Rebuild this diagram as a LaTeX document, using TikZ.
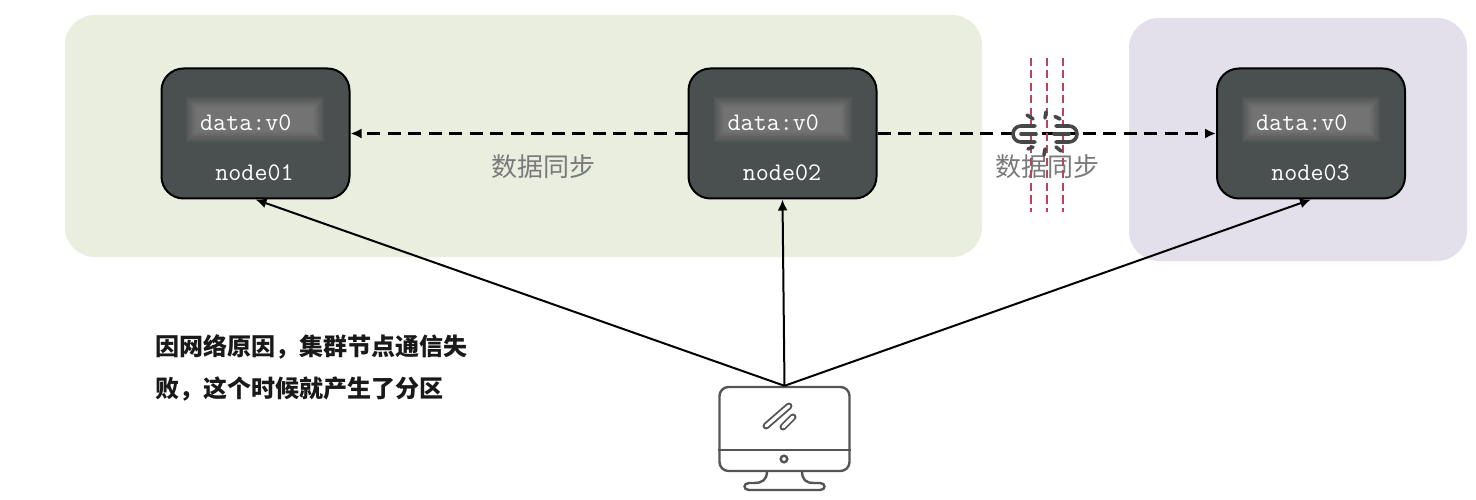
\documentclass[tikz,border=0pt]{standalone}
\usepackage{fontspec}
\setmonofont{Latin Modern Mono}
\newfontfamily\cjkfont{Noto Sans CJK SC}
\usetikzlibrary{arrows.meta,calc}
\definecolor{panelg}{HTML}{EAEEDE}
\definecolor{panelp}{HTML}{E3DFEB}
\definecolor{nodefill}{HTML}{4A4F50}
\definecolor{slotedge}{HTML}{525555}
\definecolor{slotmid}{HTML}{737373}
\definecolor{iconline}{HTML}{555555}
\definecolor{cutred}{HTML}{B5475C}
\tikzset{
  panel/.style={rounded corners=30pt,fill=#1,draw=none},
  server/.style={draw=black,line width=2pt,fill=nodefill,rounded corners=22pt,minimum width=188pt,minimum height=130pt,inner sep=0pt},
  monotext/.style={text=white,font=\ttfamily\fontsize{25.3}{27}\selectfont,inner sep=0pt},
  synclink/.style={draw=black,line width=2.2pt,dash pattern=on 13pt off 7.5pt,-{Latex[length=11pt,width=10pt]}},
  clientlink/.style={draw=black,line width=2pt,-{Latex[length=11pt,width=10pt]}},
  cjklabel/.style={text=black!52,font=\cjkfont\fontsize{26}{28}\selectfont,inner sep=0pt},
  cutline/.style={draw=cutred,line width=1.6pt,dash pattern=on 8pt off 4.5pt},
  icon/.style={draw=iconline,line width=2.4pt},
  linkpart/.style={draw=black!72,line width=3.6pt,line cap=round},
  capsule/.style={draw=iconline,line width=1.9pt,double=white,double distance=3.2pt,line cap=round}
}
\newcommand{\slotbox}[1]{%
  \foreach \k in {0,1,...,14}{%
    \pgfmathsetmacro{\pct}{min(100,\k*7.5)}%
    \fill[slotmid!\pct!slotedge] ($(#1)+(-69+\k*0.8,-22.5+\k*0.8)$) rectangle ($(#1)+(69-\k*0.8,22.5-\k*0.8)$);
  }%
}
\begin{document}
\begin{tikzpicture}[x=1pt,y=-1pt]
\useasboundingbox (0,0) rectangle (1476,500);
\fill[white] (0,0) rectangle (1476,500);
\fill[panel=panelg] (65,15) rectangle (982,257);
\fill[panel=panelp] (1129,18) rectangle (1467,261);

% servers
\node[server] (n1) at (255.5,133.5) {};
\node[server] (n2) at (782.5,133.5) {};
\node[server] (n3) at (1311,133.5) {};

\coordinate (s1) at (255,119.5);
\coordinate (s2) at (782.5,119.5);
\coordinate (s3) at (1311,119.5);
\slotbox{s1}\slotbox{s2}\slotbox{s3}

\node[monotext,anchor=base west] (d1) at (200,131) {data:v0};
\node[monotext,anchor=base west] (d2) at (727.5,131) {data:v0};
\node[monotext,anchor=base west] (d3) at (1256,131) {data:v0};
\node[monotext,anchor=base] (l1) at (254.5,181) {node01};
\node[monotext,anchor=base] (l2) at (782,181) {node02};
\node[monotext,anchor=base] (l3) at (1310.5,181) {node03};

% monitor
\node[draw=iconline,line width=2.4pt,rounded corners=9pt,minimum width=130pt,minimum height=84pt,inner sep=0pt] (pc) at (784.5,429) {};
\draw[icon] (pc.west |- 0,450) -- (pc.east |- 0,450);
\draw[icon] (784,459) circle (3.3pt);
\draw[capsule] (766,426) -- (789,406);
\draw[capsule] (783,427) -- (793,417);
\draw[icon] (767,471) .. controls (767,480) and (762,483) .. (754,483) -- (749,483)
  .. controls (743,483) and (743,490) .. (749,490) -- (820,490)
  .. controls (826,490) and (826,483) .. (820,483) -- (814,483)
  .. controls (806,483) and (802,480) .. (802,471);

% client links
\draw[clientlink] (pc.north) -- (n1.south);
\draw[clientlink] (pc.north) -- (n2.south);
\draw[clientlink] (pc.north) -- (n3.south);

% cut lines
\coordinate (ca) at (1031,58);\coordinate (cb) at (1031,212);
\coordinate (cc) at (1047,58);\coordinate (cd) at (1047,212);
\coordinate (ce) at (1063,58);\coordinate (cf) at (1063,212);

% sync links
\draw[synclink] (n2.west) -- (n1.east);
\draw[synclink] (n2.east) -- (n3.west);

\node[cjklabel] (t1) at (543,167) {数据同步};
\node[cjklabel] (t2) at (1047,167) {数据同步};

\draw[cutline] (ca) -- (cb);
\draw[cutline] (cc) -- (cd);
\draw[cutline] (ce) -- (cf);

% broken link icon
\draw[linkpart] (1035,126) -- (1021,126) arc[start angle=90,end angle=270,radius=8pt] -- (1035,142);
\draw[linkpart] (1021,134) -- (1036,134);
\draw[linkpart] (1056,126) -- (1069,126) arc[start angle=90,end angle=-90,radius=8pt] -- (1056,142);
\draw[linkpart] (1054,134) -- (1069,134);
\draw[linkpart] (1027,115) -- (1033,119);
\draw[linkpart] (1046,112) -- (1045,118);
\draw[linkpart] (1060,119) -- (1055,116.5) ;
\draw[linkpart] (1028,149) -- (1033,147);
\draw[linkpart] (1045,149) -- (1044,155);
\draw[linkpart] (1056,147) -- (1061,151);

% caption
\node[anchor=base west,inner sep=0pt,font=\cjkfont\bfseries\fontsize{24}{28}\selectfont,text=black!90] (c1) at (155,355) {因网络原因，集群节点通信失};
\node[anchor=base west,inner sep=0pt,font=\cjkfont\bfseries\fontsize{24}{28}\selectfont,text=black!90] (c2) at (155,397) {败，这个时候就产生了分区};
\end{tikzpicture}
\end{document}
